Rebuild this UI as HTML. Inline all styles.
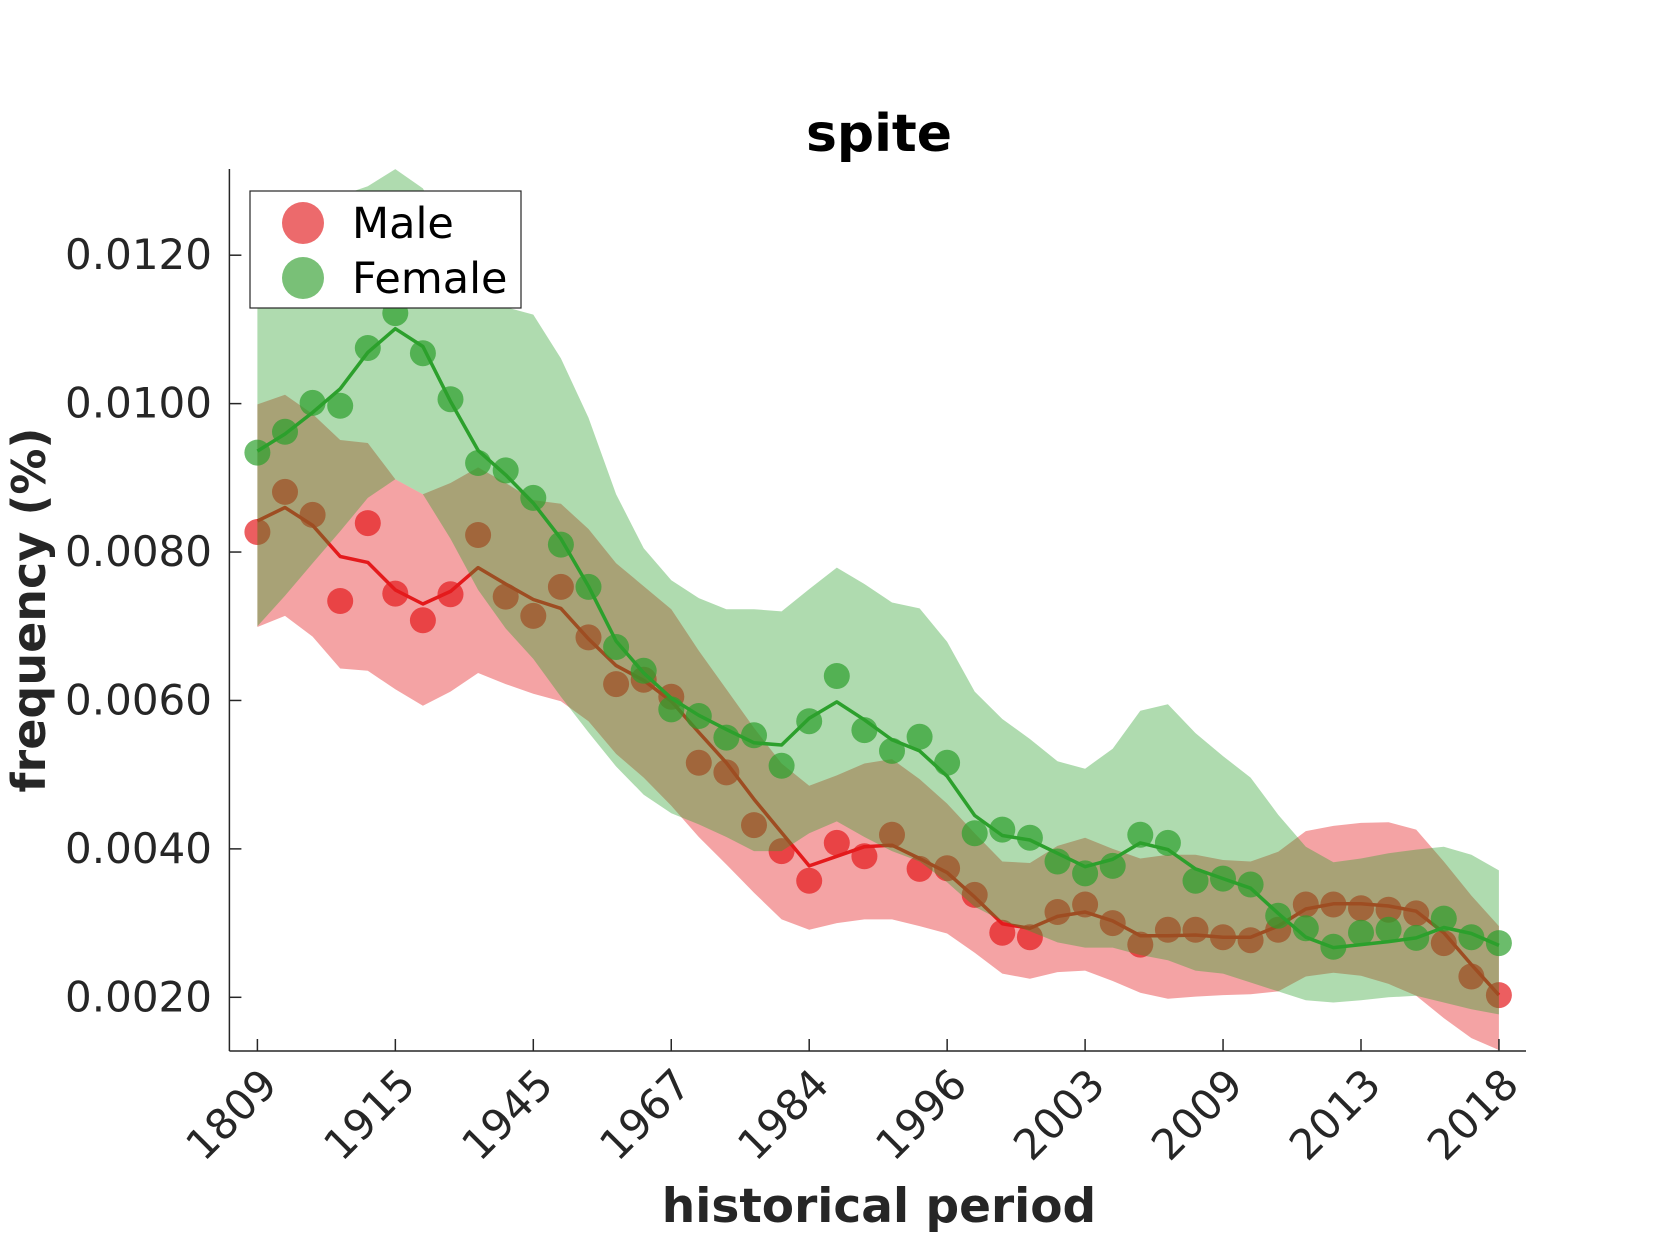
<!DOCTYPE html>
<html>
<head>
<meta charset="utf-8">
<style>
  html,body{margin:0;padding:0;background:#fff;}
  svg{display:block;font-family:"DejaVu Sans","Liberation Sans",sans-serif;}
</style>
</head>
<body>
<svg id="chart" width="1680" height="1260" viewBox="0 0 1680 1260" xmlns="http://www.w3.org/2000/svg">
  <rect x="0" y="0" width="1680" height="1260" fill="#fff"/>
  <defs><clipPath id="plotclip"><rect x="229" y="169" width="1297" height="882"/></clipPath></defs>
  <g id="bands-red" clip-path="url(#plotclip)"></g>
  <g id="bands-green" clip-path="url(#plotclip)"></g>
  <g id="axes"></g>
  <text x="879" y="151" text-anchor="middle" font-size="52" font-weight="bold" fill="#000">spite</text>
  <text x="879" y="1222" text-anchor="middle" font-size="47" font-weight="bold" fill="#262626">historical period</text>
  <text transform="translate(45,610) rotate(-90)" text-anchor="middle" font-size="46" font-weight="bold" fill="#262626">frequency (%)</text>
  <g>
    <rect x="250" y="191" width="271" height="117" fill="#fff" stroke="#262626" stroke-width="1.2"/>
    <circle cx="303" cy="223" r="21" fill="#ec6a6c"/>
    <text x="352" y="238" font-size="43" fill="#000">Male</text>
    <circle cx="303" cy="278" r="21" fill="#79c077"/>
    <text x="352" y="293" font-size="43" fill="#000">Female</text>
  </g>
<script>
// values in units of 1e-4 (0.0001)
const categories = ["1809","","","","","1915","","","","","1945","","","","","1967","","","","","1984","","","","","1996","","","","","2003","","","","","2009","","","","","2013","","","","","2018"];
const yTicks = [20, 40, 60, 80, 100, 120];
const yTickLabels = ["0.0020","0.0040","0.0060","0.0080","0.0100","0.0120"];
const maleDots = [82.7,88.1,85.0,73.4,83.9,74.4,70.8,74.3,82.3,74.0,71.4,75.3,68.5,62.2,62.8,60.5,51.6,50.3,43.2,39.7,35.7,40.8,39.0,41.9,37.3,37.4,33.8,28.7,28.1,31.5,32.5,30.0,27.1,29.1,29.1,28.1,27.7,29.1,32.5,32.5,32.0,31.8,31.3,27.3,22.8,20.3];
const femaleDots = [93.4,96.2,100.1,99.7,107.5,112.2,106.8,100.6,92.0,91.0,87.3,81.0,75.3,67.2,64.0,58.8,57.9,55.0,55.3,51.2,57.2,63.3,56.0,53.2,55.1,51.6,42.1,42.6,41.5,38.3,36.7,37.7,41.9,40.8,35.7,36.0,35.2,31.0,29.3,26.8,28.7,29.1,28.0,30.6,28.1,27.3];
const maleLine = [84.2,86.0,83.6,79.4,78.6,74.9,73.0,74.7,77.9,75.7,73.6,72.4,68.3,64.7,62.7,59.9,55.7,51.6,46.7,42.2,37.7,39.0,40.3,40.5,38.7,36.8,33.5,29.9,29.3,30.9,31.5,30.3,28.3,28.3,28.4,28.1,28.1,29.6,31.9,32.6,32.6,32.3,31.6,28.7,24.4,20.3];
const femaleLine = [93.6,95.9,98.8,102.0,106.9,110.1,107.7,100.3,93.7,90.4,86.6,81.8,75.4,68.0,63.7,60.3,58.0,56.1,54.3,54.0,57.6,59.8,57.4,54.7,53.2,49.8,44.5,41.8,41.2,39.4,37.6,38.6,40.8,39.9,37.3,36.0,34.7,31.3,28.1,26.7,27.1,27.5,28.0,29.4,28.6,27.0];
const maleUpper = [99.9,101.2,98.6,95.1,94.7,89.8,87.8,89.3,91.4,89.3,87.0,86.5,83.1,78.5,75.4,72.3,66.7,61.5,56.3,51.5,48.5,49.9,51.5,52.1,49.4,46.1,42.1,38.3,38.1,40.4,41.5,40.0,38.7,39.2,39.2,38.5,38.3,39.6,42.4,43.1,43.5,43.6,42.6,38.3,33.7,29.6];
const maleLower = [69.9,71.4,68.6,64.3,64.0,61.5,59.3,61.2,63.7,62.2,60.9,59.9,57.2,52.8,49.6,45.8,41.6,37.9,34.1,30.5,29.1,30.0,30.5,30.5,29.6,28.6,26.0,23.2,22.5,23.4,23.6,22.2,20.6,19.8,20.1,20.3,20.4,20.8,22.8,23.3,22.9,21.8,20.2,17.2,14.5,12.9];
const femaleUpper = [128,128,128,128,129.3,131.6,129,122,117,113,112.0,106.1,98.1,87.8,80.5,76.2,73.8,72.3,72.3,72.0,75.0,77.9,75.7,73.2,72.4,67.9,61.2,57.5,54.8,51.8,50.8,53.5,58.6,59.5,55.6,52.5,49.6,44.6,40.3,38.2,38.7,39.4,39.9,40.3,39.2,37.1];
const femaleLower = [70.0,74.1,78.5,82.8,87.3,89.8,87.8,81.8,74.9,69.7,65.6,60.5,55.7,51.1,47.3,44.8,43.3,41.6,39.7,39.7,42.1,43.7,41.6,39.7,38.3,35.5,32.2,30.3,28.9,27.4,26.7,26.7,25.7,25.0,23.6,23.2,22.0,20.8,19.6,19.3,19.6,20.0,20.2,19.3,18.4,17.7];

const NS = "http://www.w3.org/2000/svg";
const X0 = 257.4, DX = 27.59;
function xScale(i){ return X0 + DX * i; }
function yScale(v){ return 997.3 - (v - 20) * 7.421; }

function mk(tag, attrs, parent){
  const el = document.createElementNS(NS, tag);
  for (const k in attrs) el.setAttribute(k, attrs[k]);
  parent.appendChild(el);
  return el;
}
function bandPath(up, lo){
  let d = "";
  up.forEach((v,i)=>{ d += (i?"L":"M") + xScale(i).toFixed(1) + "," + yScale(v).toFixed(1); });
  for (let i = lo.length-1; i >= 0; i--) d += "L" + xScale(i).toFixed(1) + "," + yScale(lo[i]).toFixed(1);
  return d + "Z";
}
function linePath(vals){
  return vals.map((v,i)=>(i?"L":"M") + xScale(i).toFixed(1) + "," + yScale(v).toFixed(1)).join("");
}
function drawSeries(g, up, lo, line, dots, color, bandOp, dotOp, key){
  const band = mk("path", {d: bandPath(up, lo), fill: color, "fill-opacity": bandOp, stroke: "none"}, g);
  
  
  dots.forEach((v,i)=>{
    const c = mk("circle", {cx: xScale(i).toFixed(1), cy: yScale(v).toFixed(1), r: 13, fill: color, "fill-opacity": dotOp}, g);
    
    
  });
  const ln = mk("path", {d: linePath(line), fill: "none", stroke: color, "stroke-width": 3.5, "stroke-linejoin": "round"}, g);
  
  
}
drawSeries(document.getElementById("bands-red"), maleUpper, maleLower, maleLine, maleDots, "#e41a1c", 0.4, 0.7, "male");
drawSeries(document.getElementById("bands-green"), femaleUpper, femaleLower, femaleLine, femaleDots, "#2ca02c", 0.38, 0.7, "female");

// axes
const ax = document.getElementById("axes");
const L = 229.4, R = 1526, T = 169, B = 1051;
const yAxis = mk("line", {x1: L, y1: T, x2: L, y2: B, stroke: "#262626", "stroke-width": 1.5}, ax);


const xAxis = mk("line", {x1: L, y1: B, x2: R, y2: B, stroke: "#262626", "stroke-width": 1.5}, ax);


yTicks.forEach((v,k)=>{
  const y = yScale(v);
  const t = mk("line", {x1: L, y1: y, x2: L + 12, y2: y, stroke: "#262626", "stroke-width": 1.5}, ax);
  
  
  const tx = mk("text", {x: 212, y: y + 14, "text-anchor": "end", "font-size": 42, fill: "#262626"}, ax);
  tx.textContent = yTickLabels[k];
  
  
});
categories.forEach((c,i)=>{
  if (!c) return;
  const x = xScale(i);
  const t = mk("line", {x1: x, y1: B, x2: x, y2: B - 12, stroke: "#262626", "stroke-width": 1.5}, ax);
  
  
  const tx = mk("text", {transform: "translate(" + (x + 22) + "," + (B + 36) + ") rotate(-45)", "text-anchor": "end", "font-size": 42, fill: "#262626"}, ax);
  tx.textContent = c;
  
  
});
</script>
</svg>
</body>
</html>
